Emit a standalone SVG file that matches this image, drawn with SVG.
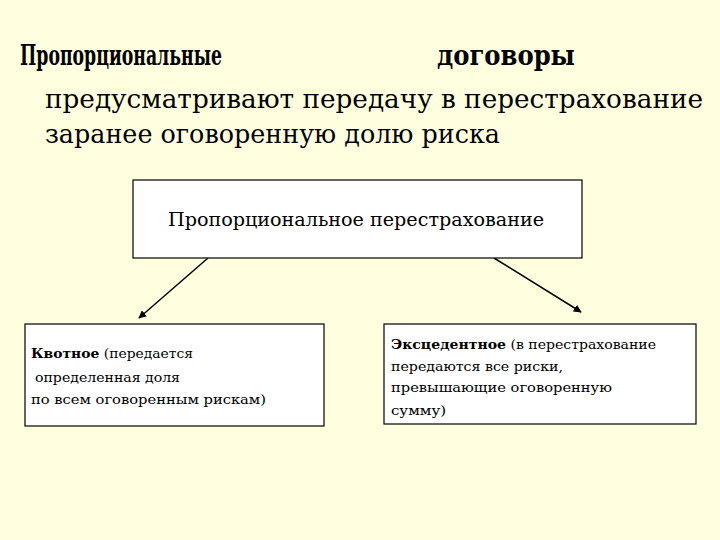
<svg xmlns="http://www.w3.org/2000/svg" width="720" height="540" viewBox="0 0 720 540">
<defs>
<style>
.t{font-family:"DejaVu Serif","Liberation Serif",serif;fill:#000}
.box{fill:#fff;stroke:#000;stroke-width:1.2}
.c{stroke:#000;stroke-width:1.5;fill:none}
</style>
<marker id="ah" viewBox="0 0 10 10" refX="9" refY="5" markerWidth="8" markerHeight="8" markerUnits="userSpaceOnUse" orient="auto">
<path d="M0,0 L10,5 L0,10 z" fill="#000"/>
</marker>
</defs>
<rect width="720" height="540" fill="#FFFFE0"/>
<g id="title">
<text class="t" x="20" y="65" font-size="27" font-weight="bold" textLength="202" lengthAdjust="spacingAndGlyphs">Пропорциональные</text>
<text class="t" x="437" y="65" font-size="27" font-weight="bold" textLength="138" lengthAdjust="spacingAndGlyphs">договоры</text>
<text class="t" x="45" y="108" font-size="26" textLength="658" lengthAdjust="spacingAndGlyphs">предусматривают  передачу  в  перестрахование</text>
<text class="t" x="45" y="143" font-size="26" textLength="455" lengthAdjust="spacingAndGlyphs">заранее оговоренную долю риска</text>
</g>
<g id="connectors">
<line class="c" x1="208" y1="258" x2="139" y2="318" marker-end="url(#ah)"/>
<line class="c" x1="494" y1="258" x2="581" y2="312" marker-end="url(#ah)"/>
</g>
<g id="node-root">
<rect class="box" x="133" y="180" width="449" height="78"/>
<text class="t" x="356" y="226" font-size="18" text-anchor="middle" textLength="376" lengthAdjust="spacingAndGlyphs">Пропорциональное перестрахование</text>
</g>
<g id="node-quota">
<rect class="box" x="25" y="324" width="299" height="102"/>
<text class="t" x="31" y="358" font-size="13" textLength="162" lengthAdjust="spacingAndGlyphs"><tspan font-weight="bold">Квотное</tspan> (передается</text>
<text class="t" x="35" y="382" font-size="13" textLength="145" lengthAdjust="spacingAndGlyphs">определенная доля</text>
<text class="t" x="31" y="404" font-size="13" textLength="235" lengthAdjust="spacingAndGlyphs">по всем оговоренным  рискам)</text>
</g>
<g id="node-excess">
<rect class="box" x="384" y="324" width="312" height="100"/>
<text class="t" x="391" y="349" font-size="13" textLength="265" lengthAdjust="spacingAndGlyphs"><tspan font-weight="bold">Эксцедентное</tspan> (в перестрахование</text>
<text class="t" x="391" y="371" font-size="13" textLength="172" lengthAdjust="spacingAndGlyphs">передаются все риски,</text>
<text class="t" x="391" y="392" font-size="13" textLength="221" lengthAdjust="spacingAndGlyphs">превышающие оговоренную</text>
<text class="t" x="391" y="415" font-size="13" textLength="55" lengthAdjust="spacingAndGlyphs">сумму)</text>
</g>
</svg>
